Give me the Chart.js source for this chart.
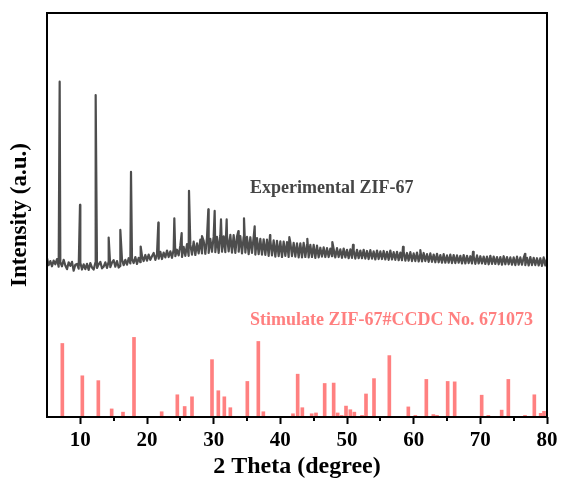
<!DOCTYPE html>
<html>
<head>
<meta charset="utf-8">
<title>ZIF-67 XRD</title>
<script src="https://cdn.jsdelivr.net/npm/chart.js@4.4.1/dist/chart.umd.min.js"></script>
<style>
  html, body { margin: 0; padding: 0; background: #fff; }
  canvas { display: block; }
</style>
</head>
<body>
<canvas id="xrd" width="563" height="485"></canvas>
<script>
// measured pattern, 2 theta from 5 to 80 in 0.25 deg steps
const expStart = 5;
const expStep = 0.25;
const expBase = [
  39.3, 37.6, 38.6, 37.3,  38.7, 37.8, 39.1, 37.2,  38.3, 37.3, 38.9, 37.5,  36.6, 38.3, 37.4, 38.4,  36.2, 37.7, 37.9, 36.7,
  38.2, 36.5, 37.8, 36.6,  37.9, 36.4, 38.1, 37.0,  36.5, 38.2, 36.9, 37.8,  38.4, 36.8, 37.2, 38.3,  36.9, 38.5, 37.1, 38.2,
  38.8, 37.2, 38.6, 37.0,  37.4, 39.0, 37.6, 38.9,  37.7, 39.3, 38.0, 39.1,  38.1, 39.6, 37.9, 39.4,  38.3, 39.9, 38.6, 40.1,
  38.7, 40.2, 38.9, 39.8,  40.6, 38.9, 40.3, 39.2,  40.9, 39.1, 40.7, 39.5,  41.2, 39.6, 41.0, 39.4,  41.5, 39.8, 41.4, 40.0,
  42.4, 39.6, 42.1, 39.9,  42.8, 39.9, 42.6, 40.2,  43.4, 40.1, 43.0, 40.5,  43.9, 40.5, 43.6, 40.4,  44.4, 40.6, 44.1, 40.9,
  44.7, 40.8, 44.6, 40.6,  45.0, 40.9, 44.7, 40.8,  44.9, 41.0, 45.1, 40.7,  45.0, 40.6, 44.7, 40.9,  44.8, 40.5, 44.6, 40.7,
  44.6, 40.3, 44.5, 40.6,  44.5, 40.2, 44.3, 40.3,  44.1, 40.2, 44.0, 40.1,  43.9, 39.9, 43.8, 40.0,  43.7, 39.7, 43.6, 39.8,
  43.5, 39.6, 43.4, 39.9,  43.3, 39.6, 43.2, 39.8,  43.1, 39.7, 43.0, 39.5,  43.0, 39.5, 43.1, 39.6,  42.7, 39.5, 42.6, 39.6,
  42.6, 39.4, 42.4, 39.5,  41.9, 39.7, 42.0, 39.6,  41.8, 39.6, 41.7, 39.8,  41.6, 39.5, 41.8, 39.6,  41.5, 39.4, 41.7, 39.5,
  41.4, 39.3, 41.5, 39.4,  41.3, 39.2, 41.4, 39.3,  41.2, 39.3, 41.4, 39.2,  41.1, 39.1, 41.3, 39.2,  41.0, 39.0, 41.2, 39.1,
  41.0, 39.1, 41.1, 39.0,  40.9, 38.9, 41.2, 39.0,  40.8, 38.9, 40.9, 38.8,  40.7, 38.8, 41.0, 38.7,  40.6, 38.7, 40.8, 38.6,
  40.5, 38.6, 40.7, 38.5,  40.4, 38.5, 40.6, 38.6,  40.3, 38.4, 40.5, 38.4,  40.2, 38.3, 40.4, 38.3,  40.1, 38.2, 40.3, 38.2,
  40.0, 38.2, 40.2, 38.1,  40.1, 38.1, 40.0, 38.2,  39.9, 38.0, 40.1, 38.0,  39.9, 38.1, 39.8, 38.0,  39.8, 37.9, 40.0, 38.0,
  39.8, 38.0, 39.7, 37.9,  39.7, 37.8, 39.9, 37.9,  39.7, 37.9, 39.6, 37.8,  39.6, 37.7, 39.8, 37.8,  39.6, 37.8, 39.5, 37.7,
  39.5, 37.6, 39.7, 37.7,  39.5, 37.7, 39.4, 37.6,  39.4, 37.5, 39.6, 37.6,  39.4, 37.6, 39.3, 37.5,  39.3, 37.4, 39.5, 37.5,
  39.2
];
// sharp reflections of the measured pattern
const peakTheta = [6.9, 9.95, 12.3, 14.25, 16.0, 17.6, 19.05, 21.7, 24.1, 25.2, 26.3, 28.25, 29.2, 30.15,
  31.1, 31.95, 33.7, 34.55, 36.15, 38.45, 41.35, 44.05, 47.8, 50.9, 58.4, 61.0, 68.9, 76.7];
const peakInt = [83.0, 52.5, 79.7, 44.4, 46.3, 60.7, 42.2, 48.1, 49.2, 45.5, 56.0, 44.8, 51.4, 51.0,
  48.9, 48.9, 46.0, 49.2, 47.2, 45.0, 44.5, 44.1, 43.3, 42.6, 42.1, 41.3, 40.9, 40.4];

// simulated pattern (CCDC 671073), stick lines
const stickTheta = [7.3, 10.3, 12.7, 14.7, 16.4, 18.05, 22.2, 24.55, 25.65, 26.75, 29.75, 30.7, 31.6, 32.5,
  35.05, 36.7, 37.45, 41.9, 42.6, 43.3, 44.7, 45.35, 46.65, 48.0, 48.6, 49.2, 49.85, 50.5, 51.1, 52.25,
  52.85, 54.05, 56.35, 59.2, 60.25, 61.9, 62.95, 63.5, 65.1, 66.15, 70.2, 71.2, 73.2, 74.2, 76.7, 78.1,
  79.05, 79.55];
const stickInt = [18.2, 10.2, 9.0, 2.0, 1.2, 19.7, 1.3, 5.5, 2.6, 5.0, 14.2, 6.5, 5.0, 2.3,
  8.8, 18.7, 1.3, 0.8, 10.6, 2.3, 0.8, 1.0, 8.3, 8.4, 1.0, 0.4, 2.7, 1.8, 1.2, 0.4,
  5.7, 9.5, 15.2, 2.5, 0.4, 9.3, 0.6, 0.4, 8.8, 8.7, 5.4, 0.4, 1.7, 9.3, 0.4, 5.5,
  0.9, 1.4];

const xTicks = [10, 20, 30, 40, 50, 60, 70, 80];
const xMinorTicks = [15, 25, 35, 45, 55, 65, 75];

const noteText = ['Experimental ZIF-67', 'Stimulate ZIF-67#CCDC No. 671073'];
const noteX = [35.45, 35.45];
const noteY = [56.7, 24.0];
const noteColor = ['#454545', '#ff7f7f'];

const serif = '"Times New Roman", "Liberation Serif", serif';

const expPoints = expBase
  .map((v, i) => ({ x: expStart + i * expStep, y: v }))
  .concat(peakTheta.map((t, i) => ({ x: t, y: peakInt[i] })))
  .sort((a, b) => a.x - b.x);

const stickPoints = stickTheta.map((t, i) => ({ x: t, y: stickInt[i] }));

// frame box, minor ticks and the two curve labels
const framePlugin = {
  id: 'frame',
  afterDatasetsDraw(chart) {
    const { ctx, scales } = chart;
    ctx.save();
    ctx.font = 'bold 18px ' + serif;
    ctx.textAlign = 'left';
    ctx.textBaseline = 'middle';
    noteText.forEach((t, i) => {
      ctx.fillStyle = noteColor[i];
      ctx.fillText(t, scales.x.getPixelForValue(noteX[i]), scales.y.getPixelForValue(noteY[i]));
    });
    ctx.restore();
  },
  afterDraw(chart) {
    const { ctx, chartArea, scales } = chart;
    ctx.save();
    ctx.strokeStyle = '#000';
    ctx.lineWidth = 2;
    ctx.strokeRect(chartArea.left, chartArea.top, chartArea.right - chartArea.left, chartArea.bottom - chartArea.top);
    ctx.beginPath();
    for (const v of xMinorTicks) {
      const px = Math.round(scales.x.getPixelForValue(v));
      ctx.moveTo(px, chartArea.bottom);
      ctx.lineTo(px, chartArea.bottom + 4);
    }
    ctx.stroke();
    ctx.restore();
  }
};

new Chart(document.getElementById('xrd'), {
  type: 'line',
  data: {
    datasets: [
      {
        type: 'line',
        label: 'Experimental ZIF-67',
        data: expPoints,
        borderColor: '#4d4d4d',
        borderWidth: 2.2,
        borderJoinStyle: 'round',
        pointRadius: 0,
        tension: 0,
        order: 1
      },
      {
        type: 'bar',
        label: 'Stimulate ZIF-67',
        data: stickPoints,
        backgroundColor: '#ff8080',
        barThickness: 3,
        order: 2
      }
    ]
  },
  options: {
    responsive: false,
    animation: false,
    layout: { padding: { top: 13, right: 16, left: 0, bottom: 0 } },
    plugins: {
      legend: { display: false },
      tooltip: { enabled: false }
    },
    scales: {
      x: {
        type: 'linear',
        min: 5,
        max: 80,
        offset: false,
        afterBuildTicks: (scale) => { scale.ticks = xTicks.map((v) => ({ value: v })); },
        afterFit: (scale) => { scale.height = 68; },
        grid: { display: true, drawOnChartArea: false, offset: false, tickLength: 7, tickWidth: 2, tickColor: '#000' },
        border: { display: false },
        ticks: {
          color: '#000',
          padding: 4,
          maxRotation: 0,
          font: { family: serif, size: 21, weight: 'bold' }
        },
        title: {
          display: true,
          text: '2 Theta (degree)',
          color: '#000',
          font: { family: serif, size: 24, weight: 'bold' },
          padding: { top: 0, bottom: 4 }
        }
      },
      y: {
        min: 0,
        max: 100,
        afterFit: (scale) => { scale.width = 47; },
        grid: { display: false },
        border: { display: false },
        ticks: { display: false },
        title: {
          display: true,
          text: 'Intensity (a.u.)',
          color: '#000',
          font: { family: serif, size: 23, weight: 'bold' },
          padding: { top: 6, bottom: 0 }
        }
      }
    }
  },
  plugins: [framePlugin]
});
</script>
</body>
</html>
